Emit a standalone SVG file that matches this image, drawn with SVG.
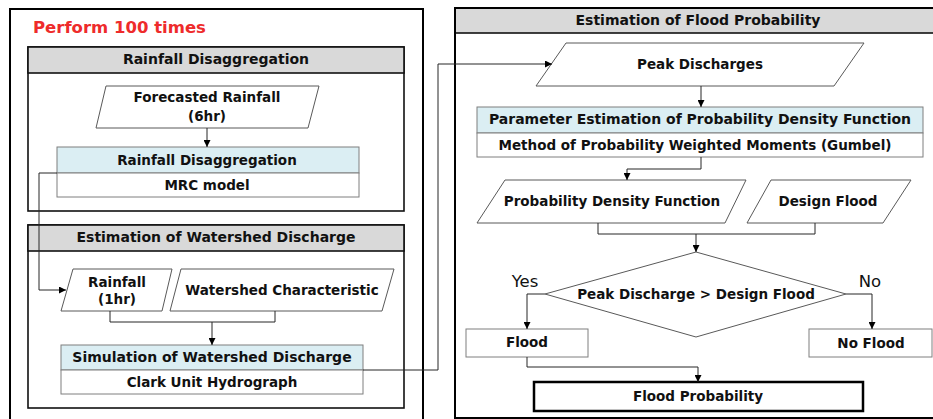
<svg xmlns="http://www.w3.org/2000/svg" width="933" height="419" viewBox="0 0 933 419">
<defs>
<marker id="ah" viewBox="0 0 10 10" refX="10" refY="5" markerWidth="7" markerHeight="7" markerUnits="userSpaceOnUse" orient="auto">
<path d="M0,0 L10,5 L0,10 z" fill="#000"/>
</marker>
<style>
text{font-family:"DejaVu Sans","Liberation Sans",sans-serif;font-weight:bold;font-size:13.5px;fill:#111;text-anchor:middle}
.outer{fill:none;stroke:#000;stroke-width:2}
.sec{fill:none;stroke:#111;stroke-width:1.6}
.hdr{fill:#d9d9d9;stroke:#111;stroke-width:1.6}
.blue{fill:#dbeef3;stroke:#7f7f7f;stroke-width:1}
.box{fill:#fff;stroke:#7f7f7f;stroke-width:1}
.para{fill:#fff;stroke:#595959;stroke-width:1}
.conn path{fill:none;stroke:#262626;stroke-width:1}
.red{fill:#ee2b2b;font-size:16.5px;text-anchor:start}
.lbl{font-weight:normal;font-size:16.5px}
.big{font-size:14px}
</style>
</defs>
<rect width="933" height="419" fill="#fff"/>

<g id="outer-left">
<rect class="outer" x="10" y="9" width="413" height="420"/>
<text class="red" x="33" y="33">Perform 100 times</text>
</g>

<g id="sec-rainfall">
<rect class="sec" x="28" y="47" width="376" height="164"/>
<rect class="hdr" x="28" y="47" width="376" height="26"/>
<text class="big" x="216" y="64">Rainfall Disaggregation</text>
</g>

<g id="forecasted">
<polygon class="para" points="106,86 319,86 308,128 96,128"/>
<text x="207" y="102">Forecasted Rainfall</text>
<text x="207" y="121">(6hr)</text>
</g>

<g id="disagg">
<rect class="blue" x="57" y="147" width="302" height="26"/>
<rect class="box" x="57" y="173" width="302" height="24"/>
<text x="207" y="165">Rainfall Disaggregation</text>
<text x="207" y="190">MRC model</text>
</g>

<g id="sec-watershed">
<rect class="sec" x="28" y="225" width="376" height="183"/>
<rect class="hdr" x="28" y="225" width="376" height="26"/>
<text class="big" x="216" y="242">Estimation of Watershed Discharge</text>
</g>

<g id="rain1hr">
<polygon class="para" points="73,269 172,269 162,311 61,311"/>
<text x="117" y="287">Rainfall</text>
<text x="117" y="304">(1hr)</text>
</g>

<g id="watershed-char">
<polygon class="para" points="181,269 394,269 382,311 170,311"/>
<text x="282" y="295">Watershed Characteristic</text>
</g>

<g id="simulation">
<rect class="blue" x="61" y="345" width="302" height="25"/>
<rect class="box" x="61" y="370" width="302" height="24"/>
<text class="big" x="212" y="362">Simulation of Watershed Discharge</text>
<text x="212" y="387">Clark Unit Hydrograph</text>
</g>

<g id="outer-right">
<rect class="hdr" x="455" y="8" width="490" height="25"/>
<rect class="outer" x="455" y="8" width="490" height="410"/>
<text class="big" x="698" y="25">Estimation of Flood Probability</text>
</g>

<g id="peak">
<polygon class="para" points="566,43 864,43 834,86 536,86"/>
<text x="700" y="69">Peak Discharges</text>
</g>

<g id="param">
<rect class="blue" x="477" y="107" width="446" height="26"/>
<rect class="box" x="477" y="133" width="446" height="24"/>
<text class="big" x="700" y="124">Parameter Estimation of Probability Density Function</text>
<text x="695" y="150">Method of Probability Weighted Moments (Gumbel)</text>
</g>

<g id="pdf">
<polygon class="para" points="505,180 746,180 725,223 477,223"/>
<text x="612" y="206">Probability Density Function</text>
</g>

<g id="design">
<polygon class="para" points="771,180 911,180 883,223 747,223"/>
<text x="828" y="206">Design Flood</text>
</g>

<g id="decision">
<polygon class="para" points="696,252 846,294 696,337 545,294"/>
<text x="696" y="299">Peak Discharge &gt; Design Flood</text>
<text class="lbl" x="525" y="287">Yes</text>
<text class="lbl" x="870" y="287">No</text>
</g>

<g id="flood">
<rect class="box" x="466" y="329" width="122" height="28"/>
<text x="527" y="347">Flood</text>
</g>

<g id="noflood">
<rect class="box" x="809" y="329" width="123" height="28"/>
<text x="871" y="348">No Flood</text>
</g>

<g id="floodprob">
<rect fill="#fff" stroke="#000" stroke-width="2.5" x="534" y="382" width="329" height="29"/>
<text x="698" y="401">Flood Probability</text>
</g>

<g class="conn" id="connectors">
<path d="M207,128 V147" marker-end="url(#ah)"/>
<path d="M57,173 H39 V290 H66" marker-end="url(#ah)"/>
<path d="M110,311 V322 H275 V311"/>
<path d="M212,322 V345" marker-end="url(#ah)"/>
<path d="M363,370 H438 V64 H552" marker-end="url(#ah)"/>
<path d="M701,86 V107" marker-end="url(#ah)"/>
<path d="M701,157 V169 H627 V180" marker-end="url(#ah)"/>
<path d="M598,223 V234 H815 V223"/>
<path d="M696,234 V252" marker-end="url(#ah)"/>
<path d="M545,294 H527 V329" marker-end="url(#ah)"/>
<path d="M846,294 H872 V329" marker-end="url(#ah)"/>
<path d="M527,357 V367 H698 V382" marker-end="url(#ah)"/>
</g>
</svg>
